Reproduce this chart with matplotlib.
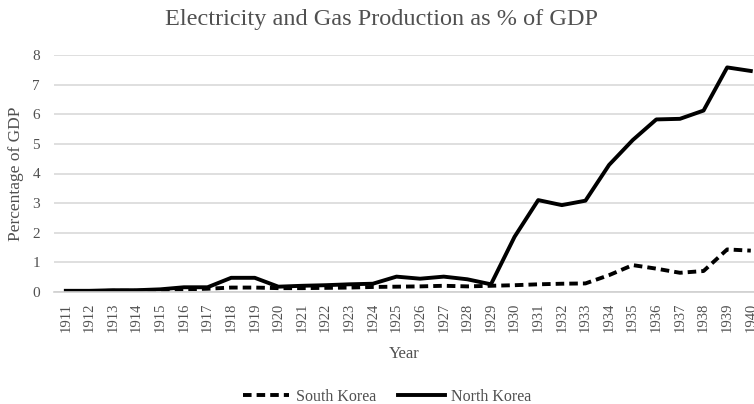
import matplotlib
matplotlib.use("Agg")
import matplotlib.pyplot as plt
from matplotlib.lines import Line2D

years = list(range(1911, 1941))
south_korea = [0.02, 0.02, 0.03, 0.03, 0.05, 0.08, 0.10, 0.14, 0.14, 0.12,
               0.12, 0.13, 0.14, 0.16, 0.17, 0.18, 0.20, 0.18, 0.20, 0.22,
               0.25, 0.27, 0.28, 0.56, 0.90, 0.78, 0.64, 0.70, 1.43, 1.39]
north_korea = [0.03, 0.03, 0.05, 0.05, 0.08, 0.15, 0.15, 0.47, 0.47, 0.17,
               0.20, 0.22, 0.25, 0.27, 0.51, 0.44, 0.51, 0.42, 0.25, 1.86,
               3.10, 2.93, 3.08, 4.29, 5.13, 5.83, 5.85, 6.13, 7.59, 7.47]
yticks = [0, 1, 2, 3, 4, 5, 6, 7, 8]

plt.rcParams['font.family'] = ['Liberation Serif', 'DejaVu Serif']
W, H = 754, 404
fig = plt.figure(figsize=(W / 100, H / 100), dpi=100)
step = 23.62
left_px, right_px = 54, 754
ax = fig.add_axes([left_px / W, (H - 291.7) / H, (right_px - left_px) / W, (291.7 - 55.3) / H])

ax.plot(years, south_korea, color='black', lw=2.8, ls=(0, (2.2, 1.3)), solid_capstyle='butt')
ax.plot(years, north_korea, color='black', lw=2.8)

ax.set_xlim(1910.5, 1910.5 + (right_px - left_px) / step)
ax.set_ylim(0, 8)
ax.set_yticks(yticks)
ax.set_yticklabels([str(v) for v in yticks], fontsize=11, color='#505050')
ax.set_xticks(years)
ax.set_xticklabels([str(y) for y in years], rotation=90, fontsize=10.5, color='#505050')
ax.tick_params(axis='x', length=0, pad=8)
ax.tick_params(axis='y', length=0, pad=10)
ax.grid(axis='y', color='#d9d9d9', lw=1.2)
ax.set_axisbelow(True)
for s in ['top', 'right', 'left']:
    ax.spines[s].set_visible(False)
ax.spines['bottom'].set_color('#d0d0d0')
ax.spines['bottom'].set_linewidth(1.2)

ax.set_xlabel('Year', fontsize=12, color='#505050', labelpad=10)
ax.set_ylabel('Percentage of GDP', fontsize=12.5, color='#505050', labelpad=6)
fig.text(382 / W, 1 - 20 / H, 'Electricity and Gas Production as % of GDP',
         ha='center', va='center', fontsize=17.5, color='#505050')

handles = [Line2D([], [], color='black', lw=2.8, ls=(0, (2.2, 1.3))),
           Line2D([], [], color='black', lw=2.8)]
fig.legend(handles, ['South Korea', 'North Korea'], loc='center',
           bbox_to_anchor=(387 / W, 1 - 397 / H), ncol=2, frameon=False,
           fontsize=11.5, handlelength=2.9, columnspacing=1.4, handletextpad=0.4,
           labelcolor='#505050', borderaxespad=0, borderpad=0)

fig.savefig('out.png', dpi=100)
